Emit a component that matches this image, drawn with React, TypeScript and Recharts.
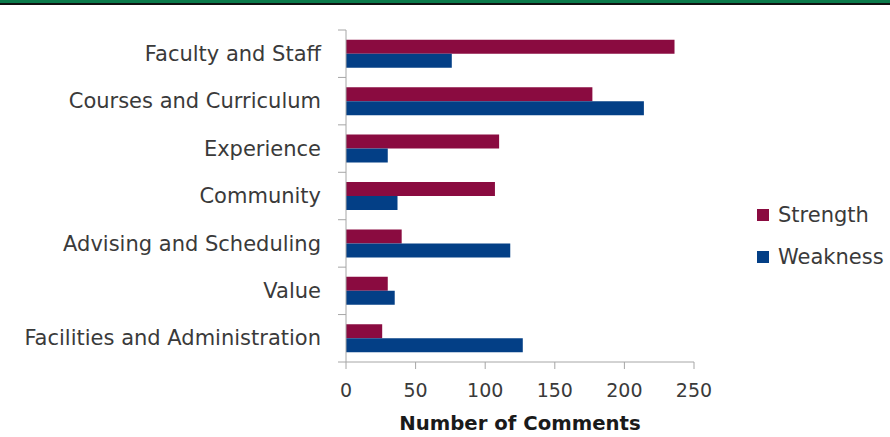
import React from 'react';
import { BarChart, Bar, XAxis, YAxis, Legend } from 'recharts';

const categories = [
  'Faculty and Staff',
  'Courses and Curriculum',
  'Experience',
  'Community',
  'Advising and Scheduling',
  'Value',
  'Facilities and Administration',
];
const strength = [236, 177, 110, 107, 40, 30, 26];
const weakness = [76, 214, 30, 37, 118, 35, 127];
const xTicks = [0, 50, 100, 150, 200, 250];

const data = categories.map((name, i) => ({ name, Strength: strength[i], Weakness: weakness[i] }));

const TEXT = '#3a3a3a';
const AXIS = '#a6a6a6';
const STRENGTH_COLOR = '#8a0b40';
const WEAKNESS_COLOR = '#033f86';
const Y_TICK_SIZE = 8;
const Y_TICK_MARGIN = 17;

const CategoryTick = (props: any) => {
  const { x, y, payload, index, visibleTicksCount } = props;
  const axisX = x + Y_TICK_SIZE + Y_TICK_MARGIN;
  const half = payload && payload.offset ? payload.offset : 0;
  const isLast = index === visibleTicksCount - 1;
  return (
    <g>
      <line x1={axisX - Y_TICK_SIZE} x2={axisX} y1={y - half} y2={y - half} stroke={AXIS} />
      {isLast && <line x1={axisX - Y_TICK_SIZE} x2={axisX} y1={y + half} y2={y + half} stroke={AXIS} />}
      <text x={x} y={y} dy="0.34em" textAnchor="end" fill={TEXT} fontSize={21}>
        {payload.value}
      </text>
    </g>
  );
};

const LegendContent = (props: any) => {
  const { payload } = props;
  return (
    <div>
      {(payload || []).map((p: any) => (
        <div key={p.value} style={{ display: 'flex', alignItems: 'center', height: 42 }}>
          <div style={{ width: 12, height: 12, background: p.color, marginRight: 9 }} />
          <span style={{ fontSize: 21, color: TEXT, fontFamily: 'DejaVu Sans' }}>{p.value}</span>
        </div>
      ))}
    </div>
  );
};

export default function App() {
  return (
    <div style={{ position: 'absolute', left: 0, top: 0, width: 890, height: 437, background: '#fff', fontFamily: 'DejaVu Sans' }}>
      <div style={{ position: 'absolute', left: 0, top: 0, width: 890, height: 3, background: '#0b7a4b' }} />
      <div style={{ position: 'absolute', left: 0, top: 3, width: 890, height: 2, background: '#111' }} />
      <BarChart
        width={890}
        height={437}
        data={data}
        layout="vertical"
        margin={{ top: 30, right: 196, bottom: 0, left: 0 }}
        barCategoryGap="20.5%"
        barGap={0}
      >
        <XAxis
          type="number"
          domain={[0, 250]}
          ticks={xTicks}
          interval={0}
          height={75}
          tickSize={7}
          tickMargin={15}
          stroke={AXIS}
          tick={{ fill: TEXT, fontSize: 19 }}
          tickLine={{ stroke: AXIS }}
          axisLine={{ stroke: AXIS }}
          label={{ value: 'Number of Comments', position: 'insideBottom', offset: 7, fill: '#1a1a1a', fontSize: 19.7, fontWeight: 'bold' }}
        />
        <YAxis
          type="category"
          dataKey="name"
          width={346}
          interval={0}
          tickSize={Y_TICK_SIZE}
          tickMargin={Y_TICK_MARGIN}
          tickLine={false}
          axisLine={{ stroke: AXIS }}
          tick={<CategoryTick />}
        />
        <Legend
          layout="vertical"
          align="center"
          verticalAlign="middle"
          content={<LegendContent />}
          wrapperStyle={{ left: 757, top: 194, width: 133 }}
        />
        <Bar dataKey="Strength" fill={STRENGTH_COLOR} isAnimationActive={false} />
        <Bar dataKey="Weakness" fill={WEAKNESS_COLOR} isAnimationActive={false} />
      </BarChart>
    </div>
  );
}
